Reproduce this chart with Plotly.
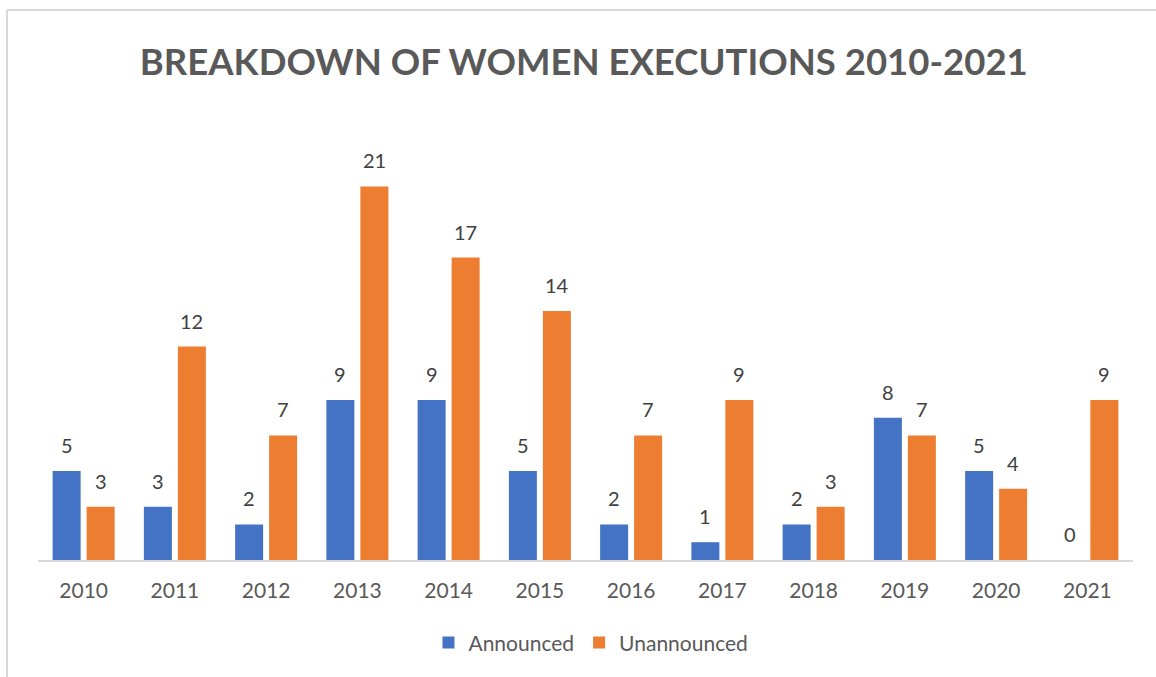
import plotly.graph_objects as go

years = ["2010", "2011", "2012", "2013", "2014", "2015", "2016", "2017", "2018", "2019", "2020", "2021"]
announced = [5, 3, 2, 9, 9, 5, 2, 1, 2, 8, 5, 0]
unannounced = [3, 12, 7, 21, 17, 14, 7, 9, 3, 7, 4, 9]

BLUE = "#4472C4"
ORANGE = "#ED7D31"
FONT = "Lato, 'Open Sans', sans-serif"

fig = go.Figure()
fig.add_trace(go.Bar(x=years, y=announced, name="Announced", marker=dict(color=BLUE, line=dict(width=0))))
fig.add_trace(go.Bar(x=years, y=unannounced, name="Unannounced", marker=dict(color=ORANGE, line=dict(width=0))))

annotations = []
for series, shift in ((announced, -17), (unannounced, 17)):
    for i, v in enumerate(series):
        # category axis: annotation x given as category index
        annotations.append(dict(x=i, y=v, xref="x", yref="y", text=str(v), showarrow=False,
                                xshift=shift, yshift=26, yanchor="middle",
                                font=dict(family=FONT, size=20, color="#404040")))

fig.update_layout(
    width=1156, height=677,
    margin=dict(l=38, r=23, t=133, b=117),
    paper_bgcolor="white", plot_bgcolor="white",
    barmode="group", bargap=0.255, bargroupgap=0.176,
    title=dict(text="<b>BREAKDOWN OF WOMEN EXECUTIONS 2010-2021</b>", xref="container", yref="container",
               x=0.505, xanchor="center", y=1 - 62 / 677, yanchor="middle",
               font=dict(family=FONT, size=36.5, color="#595959")),
    xaxis=dict(type="category", categoryorder="array", categoryarray=years,
               range=[-0.5, len(years) - 0.5],
               showline=True, linecolor="#D9D9D9", linewidth=1.5, showgrid=False,
               zeroline=False, ticks="outside", ticklen=11, tickcolor="rgba(0,0,0,0)",
               tickfont=dict(family=FONT, size=21, color="#595959")),
    yaxis=dict(range=[0, 24], visible=False, showgrid=False, zeroline=False),
    legend=dict(orientation="h", x=0.505, xanchor="center", y=-0.194, yanchor="middle",
                font=dict(family=FONT, size=21, color="#595959"), itemsizing="constant",
                itemwidth=30, traceorder="normal"),
    annotations=annotations,
    shapes=[
        dict(type="line", xref="paper", yref="paper", x0=-0.0283, x1=1.03, y0=1.288, y1=1.288,
             line=dict(color="#D9D9D9", width=2)),
        dict(type="line", xref="paper", yref="paper", x0=-0.0283, x1=-0.0283, y0=1.288, y1=-0.3,
             line=dict(color="#D9D9D9", width=2)),
    ],
    showlegend=True,
)

fig.write_html("out.html", config={"displayModeBar": False},
               post_script="document.body.style.margin='0';document.body.style.overflow='hidden';")
